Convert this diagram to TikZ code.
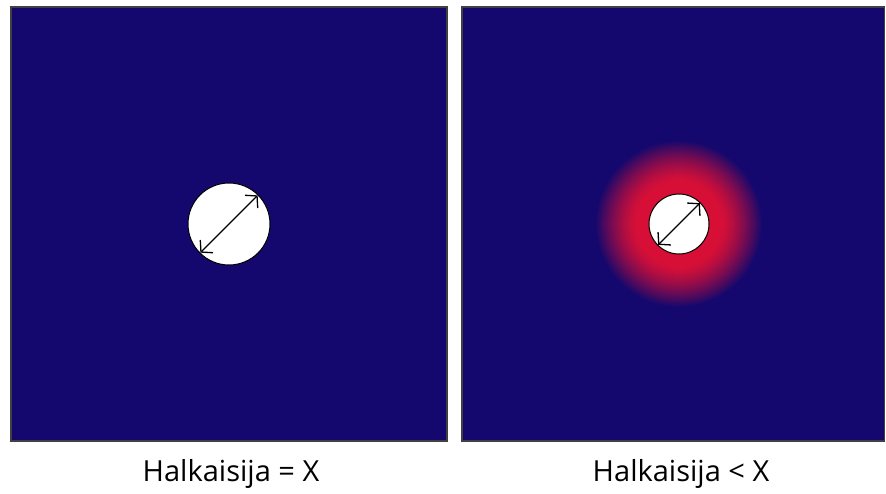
\documentclass[tikz,border=0pt]{standalone}
\usepackage{fontspec}
\setmainfont{Open Sans}
\usetikzlibrary{arrows.meta}
\definecolor{bgblue}{RGB}{20,8,110}
\definecolor{glowred}{RGB}{215,15,55}
\tikzset{
  panel/.style={draw=black!75, line width=1.5pt, fill=bgblue},
  hole/.style={circle, draw=black, line width=1pt, fill=white, inner sep=0pt, outer sep=0pt},
  diam/.style={{Straight Barb[length=8pt,width=18pt]}-{Straight Barb[length=8pt,width=18pt]}, line width=1.3pt, shorten <=0.5pt, shorten >=0.5pt},
  caption/.style={anchor=base, font=\fontsize{29}{33}\selectfont, inner sep=0pt}
}
\begin{document}
\begin{tikzpicture}[x=1pt,y=-1pt]
\useasboundingbox (0,0) rectangle (886,493);
\fill[white] (0,0) rectangle (886,493);
% panels
\draw[panel] (11,7) rectangle (447,441);
\draw[panel] (462,7) rectangle (884.5,441);
% glow (concentric rings)
\coordinate (g) at (679,224);
\foreach \r in {84,83,...,42}{
  \pgfmathsetmacro{\p}{100*(1-((\r-42)/42)^1.4)}
  \fill[glowred!\p!bgblue] (g) circle[radius=\r];
}
% holes
\node[hole, minimum size=82pt] (c1) at (229,224) {};
\node[hole, minimum size=60pt] (c2) at (679,224) {};
\draw[diam] (c1.225) -- (c1.45);
\draw[diam] (c2.225) -- (c2.45);
% captions
\node[caption] (t1) at (231,481) {Halkaisija = X};
\node[caption] (t2) at (681,481) {Halkaisija < X};
\end{tikzpicture}
\end{document}
